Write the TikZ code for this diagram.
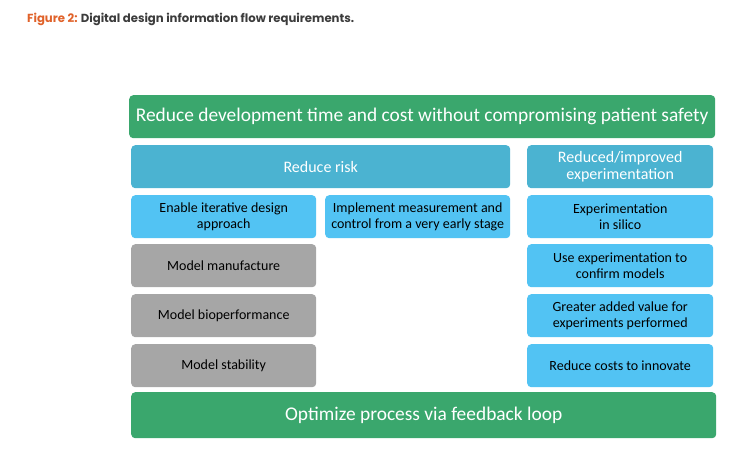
\documentclass[tikz,border=0pt]{standalone}
\usepackage{fontspec}
\setmainfont{Carlito}
\newfontfamily\titlefont{Poppins}
\definecolor{gr}{HTML}{3AA76D}
\definecolor{hdr}{HTML}{4BB3D1}
\definecolor{lb}{HTML}{52C3F3}
\definecolor{gy}{HTML}{A6A6A6}
\definecolor{org}{HTML}{E0622A}
\definecolor{dk}{HTML}{3C3C3C}
\tikzset{
  box/.style={rounded corners=4pt, inner sep=0pt, align=center},
  greenbox/.style={box, fill=gr, text=white, font=\fontsize{19.4}{23}\selectfont},
  hdrbox/.style={box, fill=hdr, text=white, font=\fontsize{16}{17}\selectfont},
  bluebox/.style={box, fill=lb, text=black, font=\fontsize{14}{16}\selectfont},
  graybox/.style={box, fill=gy, text=black, font=\fontsize{14}{16}\selectfont},
}
\begin{document}
\begin{tikzpicture}[x=1pt,y=-1pt]
\useasboundingbox (0,0) rectangle (750,450);
\node[anchor=west, inner sep=0pt, font=\titlefont\bfseries\fontsize{11.7}{14}\selectfont] (title) at (27,19)
  {\textcolor{org}{Figure 2:} \textcolor{dk}{Digital design information flow requirements.}};
\node[greenbox, minimum width=586pt, minimum height=43pt, anchor=north west] (goal) at (129,95)
  {Reduce development time and cost without compromising patient safety};
\node[hdrbox, minimum width=379pt, minimum height=43pt, anchor=north west] (risk) at (131,145) {Reduce risk};
\node[hdrbox, minimum width=186pt, minimum height=43pt, anchor=north west] (exp) at (527,145) {Reduced/improved\\experimentation};
\node[bluebox, minimum width=185pt, minimum height=43pt, anchor=north west] (iter) at (131,195) {Enable iterative design\\approach};
\node[bluebox, minimum width=185pt, minimum height=43pt, anchor=north west] (meas) at (325,195) {Implement measurement and\\control from a very early stage};
\node[bluebox, minimum width=186pt, minimum height=43pt, anchor=north west] (silico) at (527,195) {Experimentation\\in silico};
\node[graybox, minimum width=185pt, minimum height=43pt, anchor=north west] (manu) at (131,244) {Model manufacture};
\node[bluebox, minimum width=186pt, minimum height=43pt, anchor=north west] (confirm) at (527,244) {Use experimentation to\\confirm models};
\node[graybox, minimum width=185pt, minimum height=43pt, anchor=north west] (bio) at (131,294) {Model bioperformance};
\node[bluebox, minimum width=186pt, minimum height=43pt, anchor=north west] (value) at (527,294) {Greater added value for\\experiments performed};
\node[graybox, minimum width=185pt, minimum height=43pt, anchor=north west] (stab) at (131,344) {Model stability};
\node[bluebox, minimum width=186pt, minimum height=43pt, anchor=north west] (cost) at (527,344) {Reduce costs to innovate};
\node[greenbox, minimum width=585pt, minimum height=46pt, anchor=north west] (loop) at (131,392) {Optimize process via feedback loop};
\end{tikzpicture}
\end{document}
